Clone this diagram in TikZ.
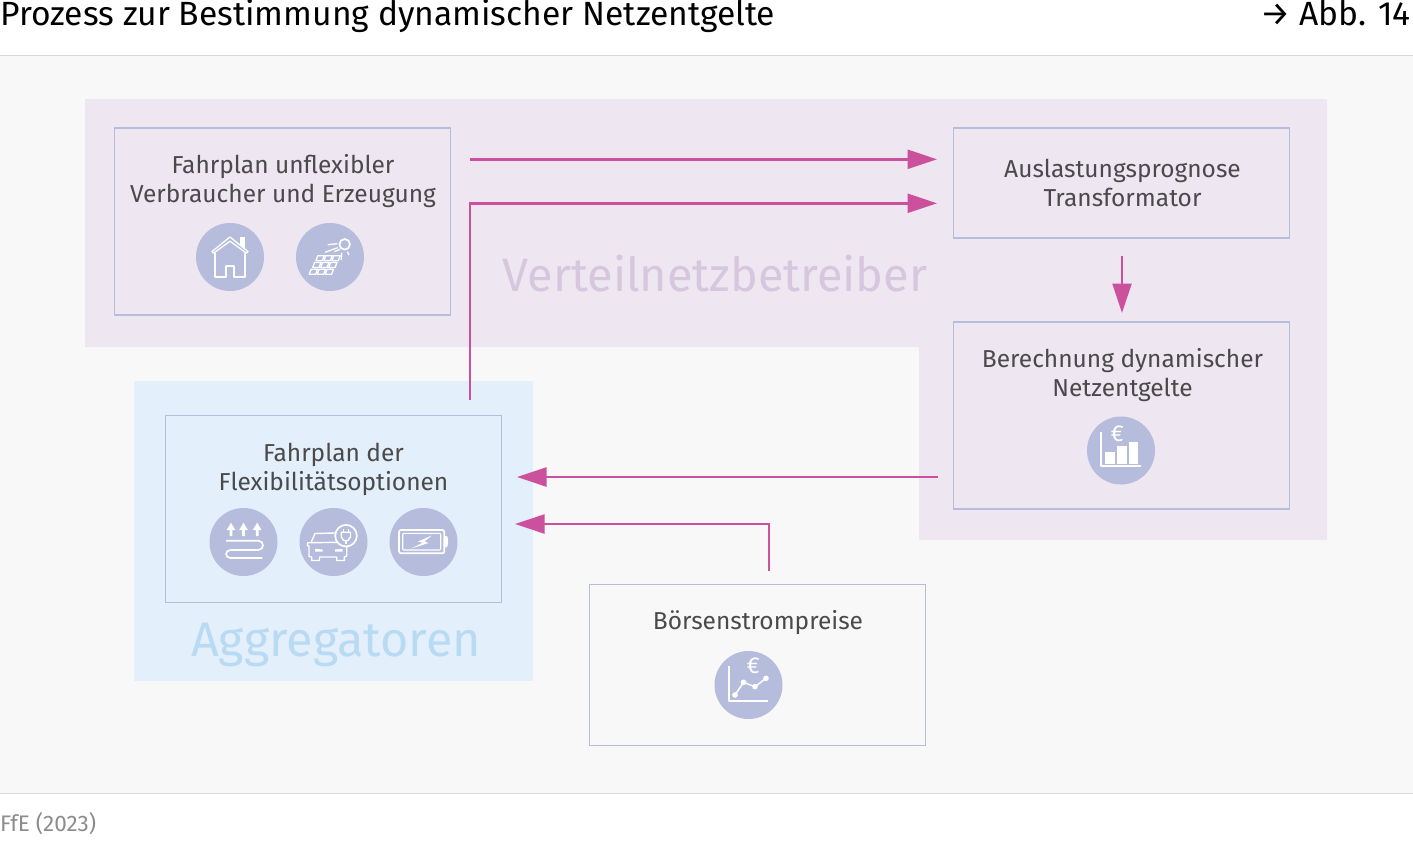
\documentclass[tikz,border=0pt]{standalone}
\usepackage{fontspec}
\setmainfont{Fira Sans}[Scale=1]
\usetikzlibrary{arrows.meta}
\definecolor{bgg}{HTML}{F8F8F8}
\definecolor{rule}{HTML}{D9D9D9}
\definecolor{vnb}{HTML}{EEE6F1}
\definecolor{agg}{HTML}{E3EFFB}
\definecolor{boxl}{HTML}{B5BCDC}
\definecolor{pink}{HTML}{CB519C}
\definecolor{txt}{HTML}{4A4A4A}
\definecolor{vnbt}{HTML}{D6C6DE}
\definecolor{aggt}{HTML}{B9DAF3}
\tikzset{
 x=1pt,y=-1pt,
 card/.style={draw=boxl,line width=1.2pt,anchor=north west,inner sep=0pt,outer sep=0pt},
 lab/.style={text=txt,align=center,font=\fontsize{24.5}{29}\selectfont},
 disc/.style={circle,fill=boxl,minimum size=68pt,inner sep=0pt,outer sep=0pt},
 ic/.style={draw=white,line width=1.7pt,line join=round},
 flow/.style={draw=pink,line width=2.4pt,-{Triangle[length=29.5pt,width=19pt]}},
}
\begin{document}
\begin{tikzpicture}
\useasboundingbox (0,0) rectangle (1413,852);
\fill[white] (0,0) rectangle (1413,852);
\fill[bgg] (0,56) rectangle (1413,793);
\draw[rule,line width=1.2pt] (0,55.5) -- (1413,55.5);
\draw[rule,line width=1.2pt] (0,793.5) -- (1413,793.5);
\node[anchor=base west,inner sep=0pt,text=black,font=\fontsize{33.6}{36}\selectfont] (title) at (0,25) {Prozess zur Bestimmung dynamischer Netzentgelte};
\node[anchor=base east,inner sep=0pt,text=black,font=\fontsize{33.6}{36}\selectfont] (abb) at (1411,25) {→ Abb. 14};
\node[anchor=base west,inner sep=0pt,text=black!45,font=\fontsize{22.5}{24}\selectfont] (src) at (0,831) {FfE (2023)};
\fill[vnb] (85,99) -- (1327,99) -- (1327,540) -- (919,540) -- (919,347) -- (85,347) -- cycle;
\fill[agg] (134,381) rectangle (533,681);
\node[text=vnbt,font=\fontsize{46.8}{50}\selectfont,inner sep=0pt] (vnbl) at (715,274) {Verteilnetzbetreiber};
\node[text=aggt,font=\fontsize{48.5}{52}\selectfont,inner sep=0pt] (aggl) at (336,645) {Aggregatoren};
% cards
\node[card,minimum width=336pt,minimum height=187pt] (c1) at (114.5,128) {};
\node[card,minimum width=336pt,minimum height=110pt] (c2) at (953.5,128) {};
\node[card,minimum width=336pt,minimum height=187pt] (c3) at (953.5,322) {};
\node[card,minimum width=336pt,minimum height=187pt] (c4) at (165.5,415.5) {};
\node[card,minimum width=336pt,minimum height=161pt] (c5) at (589.5,584.5) {};
\node[lab] (t1) at (283,181) {Fahrplan unflexibler\\Verbraucher und Erzeugung};
\node[lab] (t2) at (1122.5,183) {Auslastungsprognose\\Transformator};
\node[lab] (t3) at (1122.5,375) {Berechnung dynamischer\\Netzentgelte};
\node[lab] (t4) at (333.5,469) {Fahrplan der\\Flexibilitätsoptionen};
\node[lab] (t5) at (758,623) {Börsenstrompreise};
% connectors
\coordinate (a1s) at (470,159.3); \coordinate (a1e) at (937,159.3);
\coordinate (a2s) at (470,400); \coordinate (a2e) at (937,203.3);
\coordinate (a3s) at (1122,256); \coordinate (a3e) at (1122,313);
\coordinate (a4s) at (937.5,477); \coordinate (a4e) at (517,477);
\coordinate (a5s) at (769,571); \coordinate (a5e) at (515,524);
\draw[flow] (a1s) -- (a1e);
\draw[flow] (a2s) |- (a2e);
\draw[flow] (a3s) -- (a3e);
\draw[flow] (a4s) -- (a4e);
\draw[flow] (a5s) |- (a5e);
% discs
\node[disc] (d1) at (230,257) {};
\node[disc] (d2) at (330,257) {};
\node[disc] (d3) at (1121,450.5) {};
\node[disc] (d4) at (243.5,542) {};
\node[disc] (d5) at (333.5,542) {};
\node[disc] (d6) at (423.5,542) {};
\node[disc] (d7) at (748.5,685) {};
% house
\begin{scope}[shift={(d1.center)}]
 \fill[white] (10,-20.5) rectangle (15,-9);
 \draw[ic,fill=boxl,line width=1.3pt] (-18,-5.5) -- (0,-20) -- (18,-5.5) -- (16.5,-3.8) -- (0,-15.8) -- (-16.5,-3.8) -- cycle;
 \draw[ic] (-15,-4) -- (-15,19.7) -- (-4,19.7) -- (-4,8.7) -- (4,8.7) -- (4,19.7) -- (15,19.7) -- (15,-4);
\end{scope}
% solar
\begin{scope}[shift={(d2.center)}]
 \draw[ic] (14.7,-12.7) circle[radius=5.3];
 \draw[ic,line width=1.3pt] (-2.3,-12.3) -- (7.3,-13.3) (-5,-4.7) -- (7.7,-9.3) (4.3,-5.3) -- (10,-7.7) (11.7,-4.3) -- (11.3,3) (17.3,-5.3) -- (19,-2);
 \foreach \r/\ry/\rx in {0/-1.3/-12.2,1/5.4/-15.4,2/12.3/-18.9}{
  \foreach \c in {0,1,2}{
   \draw[ic,line width=1.3pt] (\rx+\c*8,\ry) -- ++(6.4,0) -- ++(-1.9,5) -- ++(-6.4,0) -- cycle;
  }}
\end{scope}
% chart euro
\begin{scope}[shift={(d3.center)}]
 \draw[ic] (-20.3,-18.8) -- (-20.3,15.5) -- (19.7,15.5);
 \fill[white] (-15.7,1.2) rectangle (-6,13.5);
 \fill[white] (-4.3,-4.2) rectangle (5.7,13.5);
 \fill[white] (8,-8.8) rectangle (17.3,13.5);
 \node[text=white,font=\fontsize{23}{23}\selectfont,inner sep=0pt] (e1) at (-3.7,-17) {€};
\end{scope}
% heating
\begin{scope}[shift={(d4.center)}]
 \foreach \xx in {-12.5,0,13.7}{
  \fill[white] (\xx-4.3,-12) -- (\xx,-19.3) -- (\xx+4.3,-12) -- (\xx+1.4,-12) -- (\xx+1.4,-6) -- (\xx-1.4,-6) -- (\xx-1.4,-12) -- cycle;
 }
 \draw[ic] (-17.5,-1.3) -- (14.8,-1.3) .. controls (21,-1.3) and (21,8) .. (14.8,8) -- (-12.8,8) .. controls (-19,8) and (-19,16) .. (-12.8,16) -- (18.8,16);
\end{scope}
% car
\begin{scope}[shift={(d5.center)}]
 \draw[ic,line width=1.4pt] (1.5,-9) -- (-18.5,-8.5) -- (-22.5,0.7) -- (-26,0.7) -- (-26,3.5) -- (-24.5,4) -- (-24.5,14.5) -- (-21.8,15) -- (-21.8,18.5) -- (-14,18.5) -- (-14,15) -- (3.2,15) -- (3.2,18.5) -- (10.8,18.5) -- (10.8,15) -- (13.2,14) -- (13.2,3);
 \draw[ic,line width=1.4pt] (-22.5,0.7) -- (5,0.3);
 \fill[white] (-18.5,6.8) -- (-11,7.5) -- (-11,9.5) -- (-18.5,9.5) -- cycle;
 \fill[white] (9,6.8) -- (1.5,7.5) -- (1.5,9.5) -- (9,9.5) -- cycle;
 \draw[ic,fill=boxl] (12.5,-6.3) circle[radius=10.8];
 \draw[ic,line width=1.3pt] (9.8,-12.7) -- (9.8,-9.7) (14.8,-12.7) -- (14.8,-9.7);
 \draw[ic,line width=1.3pt] (7.8,-9.7) -- (17,-9.7) -- (17,-5) -- (14.5,-1.5) -- (10.2,-1.5) -- (7.8,-5) -- cycle;
 \draw[ic,line width=1.3pt] (12.4,-1.5) -- (12.4,1.5);
\end{scope}
% battery
\begin{scope}[shift={(d6.center)}]
 \draw[ic,rounded corners=2pt] (-24.5,-12) rectangle (20.8,11.3);
 \draw[ic,line width=1.1pt,rounded corners=1pt] (-20.8,-8.7) rectangle (17.2,8);
 \fill[white] (21.5,-6) -- (23.5,-6) .. controls (25,-4) and (25,3) .. (23.5,5.3) -- (21.5,5.3) -- cycle;
 \fill[white] (8.2,-6.5) -- (-5.5,-0.5) -- (-0.8,0.7) -- (-12.8,6.8) -- (5,1) -- (1,-0.4) -- cycle;
\end{scope}
% line chart euro
\begin{scope}[shift={(d7.center)}]
 \draw[ic] (-19.5,-19) -- (-19.5,16.3) -- (19.8,16.3);
 \draw[ic,line width=1.5pt] (-13.5,10) -- (-5,-2.7) -- (6.5,1.7) -- (17.5,-6.7);
 \fill[white] (-13.5,10) circle[radius=2.8] (-5,-2.7) circle[radius=2.8] (6.5,1.7) circle[radius=2.8] (17.5,-6.7) circle[radius=2.8];
 \node[text=white,font=\fontsize{23}{23}\selectfont,inner sep=0pt] (e2) at (4.8,-19) {€};
\end{scope}
\end{tikzpicture}
\end{document}
